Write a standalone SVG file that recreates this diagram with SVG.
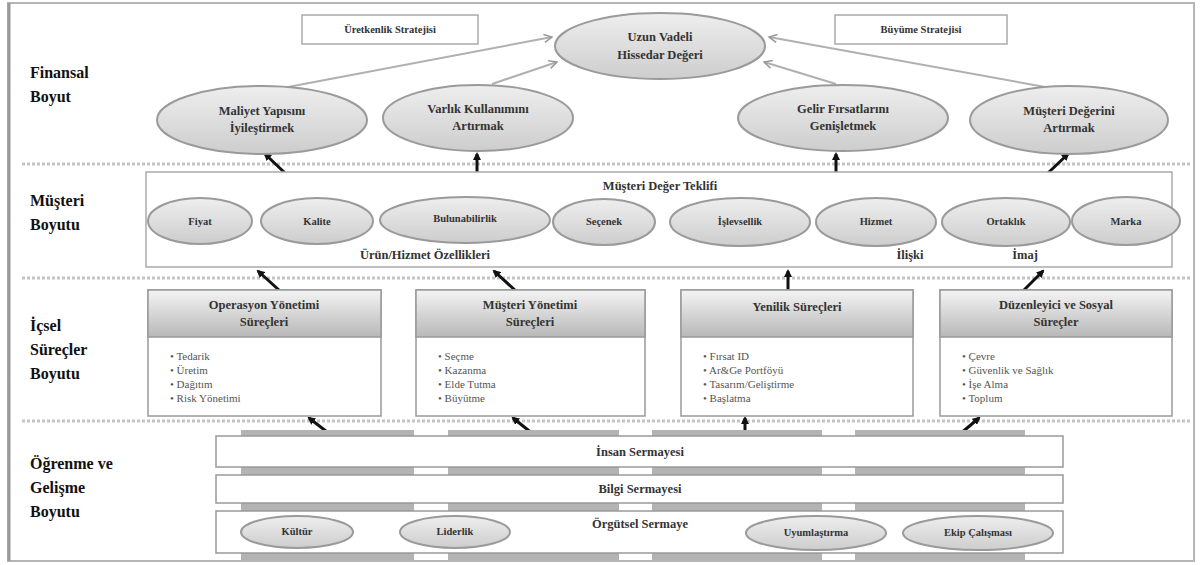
<svg xmlns="http://www.w3.org/2000/svg" width="1201" height="565" viewBox="0 0 1201 565" font-family="'Liberation Serif', 'Times New Roman', serif">
<defs>
<linearGradient id="eg" x1="0" y1="0" x2="0" y2="1">
<stop offset="0" stop-color="#eeeeee"/><stop offset="1" stop-color="#cdcdcd"/>
</linearGradient>
<linearGradient id="hg" x1="0" y1="0" x2="0" y2="1">
<stop offset="0" stop-color="#f4f4f4"/><stop offset="1" stop-color="#b8b8b8"/>
</linearGradient>
<marker id="ab" markerWidth="8" markerHeight="8" refX="6" refY="4" orient="auto" markerUnits="userSpaceOnUse">
<path d="M0,0 L8,4 L0,8 z" fill="#111"/>
</marker>
<marker id="ag" markerWidth="10" markerHeight="10" refX="9" refY="5" orient="auto" markerUnits="userSpaceOnUse">
<path d="M1,1 L9,5 L1,9" fill="none" stroke="#999" stroke-width="1.5"/>
</marker>
</defs>
<style>
text{font-family:'Liberation Serif','Times New Roman',serif}
.el{fill:url(#eg);stroke:#9a9a9a;stroke-width:2}
.t{font-size:12.5px;fill:#333;text-anchor:middle;font-weight:bold}
.ts{font-size:10.5px;fill:#333;text-anchor:middle;font-weight:bold}
.lab{font-size:16px;fill:#111;font-weight:bold}
.bl{font-size:11px;fill:#555}
.box{fill:#fff;stroke:#999;stroke-width:1.5}
.hd{fill:url(#hg);stroke:#999;stroke-width:1.5}
.sep{stroke:#c4c4c4;stroke-width:3;stroke-dasharray:3 2}
.bar{fill:#b3b3b3}
.ba{stroke:#111;stroke-width:3;fill:none;marker-end:url(#ab)}
.ga{stroke:#b0b0b0;stroke-width:2;fill:none;marker-end:url(#ag)}
</style>
<rect x="0" y="0" width="1201" height="565" fill="#fff"/>
<rect x="8" y="3" width="1186" height="558" fill="#fff" stroke="#b5b5b5" stroke-width="2"/>
<line x1="9" y1="3" x2="9" y2="561" stroke="#999" stroke-width="3"/>

<g id="separators">
<line class="sep" x1="22" y1="164" x2="1190" y2="164"/>
<line class="sep" x1="22" y1="278" x2="1190" y2="278"/>
<line class="sep" x1="22" y1="421" x2="1190" y2="421"/>
</g>

<g id="labels">
<text class="lab" x="30" y="78">Finansal</text>
<text class="lab" x="30" y="102">Boyut</text>
<text class="lab" x="30" y="206">Müşteri</text>
<text class="lab" x="30" y="230">Boyutu</text>
<text class="lab" x="30" y="331">İçsel</text>
<text class="lab" x="30" y="355">Süreçler</text>
<text class="lab" x="30" y="379">Boyutu</text>
<text class="lab" x="30" y="469">Öğrenme ve</text>
<text class="lab" x="30" y="493">Gelişme</text>
<text class="lab" x="30" y="517">Boyutu</text>
</g>

<g id="strategy-boxes">
<g id="uretkenlik"><rect x="302" y="15" width="176" height="29" fill="#fff" stroke="#aaa" stroke-width="1.5"/><text class="ts" x="390" y="33">Üretkenlik Stratejisi</text></g>
<g id="buyume"><rect x="835" y="15" width="172" height="29" fill="#fff" stroke="#aaa" stroke-width="1.5"/><text class="ts" x="921" y="33">Büyüme Stratejisi</text></g>
</g>

<g id="connectors">
<line class="ga" x1="288" y1="87" x2="552" y2="37"/>
<line class="ga" x1="492" y1="84" x2="557" y2="62"/>
<line class="ga" x1="836" y1="84" x2="764" y2="62"/>
<line class="ga" x1="1045" y1="87" x2="769" y2="37"/>
<line class="ba" x1="285" y1="173" x2="265" y2="154"/>
<line class="ba" x1="477" y1="173" x2="477" y2="154"/>
<line class="ba" x1="836" y1="173" x2="836" y2="154"/>
<line class="ba" x1="1048" y1="173" x2="1068" y2="154"/>
<line class="ba" x1="280" y1="291" x2="258" y2="271"/>
<line class="ba" x1="517" y1="292" x2="494" y2="271"/>
<line class="ba" x1="788" y1="291" x2="788" y2="271"/>
<line class="ba" x1="1023" y1="291" x2="1043" y2="271"/>
<line class="ba" x1="331" y1="435" x2="309" y2="418"/>
<line class="ba" x1="533" y1="434" x2="513" y2="418"/>
<line class="ba" x1="745" y1="434" x2="745" y2="418"/>
<line class="ba" x1="960" y1="434" x2="979" y2="418"/>
</g>

<g id="hissedar"><ellipse class="el" cx="660" cy="46" rx="105" ry="33"/><text class="t" x="660" y="41">Uzun Vadeli</text><text class="t" x="660" y="59">Hissedar Değeri</text></g>
<g id="maliyet"><ellipse class="el" cx="262" cy="120" rx="105" ry="34"/><text class="t" x="262" y="115">Maliyet Yapısını</text><text class="t" x="262" y="132">İyileştirmek</text></g>
<g id="varlik"><ellipse class="el" cx="478" cy="118" rx="95" ry="33"/><text class="t" x="478" y="113">Varlık Kullanımını</text><text class="t" x="478" y="130">Artırmak</text></g>
<g id="gelir"><ellipse class="el" cx="843" cy="118" rx="105" ry="33"/><text class="t" x="843" y="113">Gelir Fırsatlarını</text><text class="t" x="843" y="130">Genişletmek</text></g>
<g id="musteri-degeri"><ellipse class="el" cx="1069" cy="120" rx="99" ry="34"/><text class="t" x="1069" y="115">Müşteri Değerini</text><text class="t" x="1069" y="132">Artırmak</text></g>

<g id="musteri-boyutu">
<rect x="146" y="172" width="1026" height="95" fill="#fff" stroke="#aaa" stroke-width="1.5"/>
<text class="t" x="660" y="190">Müşteri Değer Teklifi</text>
<text class="t" x="425" y="259">Ürün/Hizmet Özellikleri</text>
<text class="t" x="910" y="259">İlişki</text>
<text class="t" x="1025" y="259">İmaj</text>
</g>
<g id="fiyat"><ellipse class="el" cx="200" cy="221" rx="52" ry="23"/><text class="ts" x="200" y="225">Fiyat</text></g>
<g id="kalite"><ellipse class="el" cx="317" cy="221" rx="56" ry="23"/><text class="ts" x="317" y="225">Kalite</text></g>
<g id="bulunabilirlik"><ellipse class="el" cx="465" cy="220" rx="85" ry="23"/><text class="ts" x="465" y="222">Bulunabilirlik</text></g>
<g id="secenek"><ellipse class="el" cx="604" cy="222" rx="51" ry="23"/><text class="ts" x="604" y="225">Seçenek</text></g>
<g id="islevsellik"><ellipse class="el" cx="740" cy="222" rx="70" ry="24"/><text class="ts" x="740" y="225">İşlevsellik</text></g>
<g id="hizmet"><ellipse class="el" cx="876" cy="222" rx="60" ry="24"/><text class="ts" x="876" y="225">Hizmet</text></g>
<g id="ortaklik"><ellipse class="el" cx="1006" cy="222" rx="64" ry="24"/><text class="ts" x="1006" y="225">Ortaklık</text></g>
<g id="marka"><ellipse class="el" cx="1126" cy="221" rx="54" ry="24"/><text class="ts" x="1126" y="225">Marka</text></g>

<g id="operasyon">
<rect class="box" x="148" y="290" width="233" height="126"/>
<rect class="hd" x="148" y="290" width="233" height="47"/>
<text class="t" x="264" y="309">Operasyon Yönetimi</text><text class="t" x="264" y="326">Süreçleri</text>
<g class="bl"><text x="170" y="360">• Tedarik</text><text x="170" y="374">• Üretim</text><text x="170" y="388">• Dağıtım</text><text x="170" y="402">• Risk Yönetimi</text></g>
</g>
<g id="musteri-yonetimi">
<rect class="box" x="416" y="290" width="229" height="126"/>
<rect class="hd" x="416" y="290" width="229" height="47"/>
<text class="t" x="530" y="309">Müşteri Yönetimi</text><text class="t" x="530" y="326">Süreçleri</text>
<g class="bl"><text x="438" y="360">• Seçme</text><text x="438" y="374">• Kazanma</text><text x="438" y="388">• Elde Tutma</text><text x="438" y="402">• Büyütme</text></g>
</g>
<g id="yenilik">
<rect class="box" x="681" y="290" width="232" height="126"/>
<rect class="hd" x="681" y="290" width="232" height="47"/>
<text class="t" x="797" y="311">Yenilik Süreçleri</text>
<g class="bl"><text x="703" y="360">• Fırsat ID</text><text x="703" y="374">• Ar&amp;Ge Portföyü</text><text x="703" y="388">• Tasarım/Geliştirme</text><text x="703" y="402">• Başlatma</text></g>
</g>
<g id="duzenleyici">
<rect class="box" x="940" y="290" width="232" height="126"/>
<rect class="hd" x="940" y="290" width="232" height="47"/>
<text class="t" x="1056" y="309">Düzenleyici ve Sosyal</text><text class="t" x="1056" y="326">Süreçler</text>
<g class="bl"><text x="962" y="360">• Çevre</text><text x="962" y="374">• Güvenlik ve Sağlık</text><text x="962" y="388">• İşe Alma</text><text x="962" y="402">• Toplum</text></g>
</g>

<g id="pillars">
<rect class="bar" x="241" y="430" width="173" height="130"/>
<rect class="bar" x="448" y="430" width="171" height="130"/>
<rect class="bar" x="652" y="430" width="170" height="130"/>
<rect class="bar" x="855" y="430" width="170" height="130"/>
</g>
<g id="insan"><rect class="box" x="216" y="436" width="847" height="31"/><text class="t" x="640" y="456">İnsan Sermayesi</text></g>
<g id="bilgi"><rect class="box" x="216" y="475" width="847" height="28"/><text class="t" x="640" y="493">Bilgi Sermayesi</text></g>
<g id="orgutsel"><rect class="box" x="216" y="511" width="847" height="42"/><text class="t" x="640" y="528">Örgütsel Sermaye</text></g>
<g id="kultur"><ellipse class="el" cx="297" cy="532" rx="56" ry="16"/><text class="ts" x="297" y="535">Kültür</text></g>
<g id="liderlik"><ellipse class="el" cx="455" cy="532" rx="55" ry="16"/><text class="ts" x="455" y="535">Liderlik</text></g>
<g id="uyumlastirma"><ellipse class="el" cx="816" cy="533" rx="70" ry="17"/><text class="ts" x="816" y="536">Uyumlaştırma</text></g>
<g id="ekip"><ellipse class="el" cx="978" cy="533" rx="75" ry="17"/><text class="ts" x="978" y="536">Ekip Çalışması</text></g>
</svg>
